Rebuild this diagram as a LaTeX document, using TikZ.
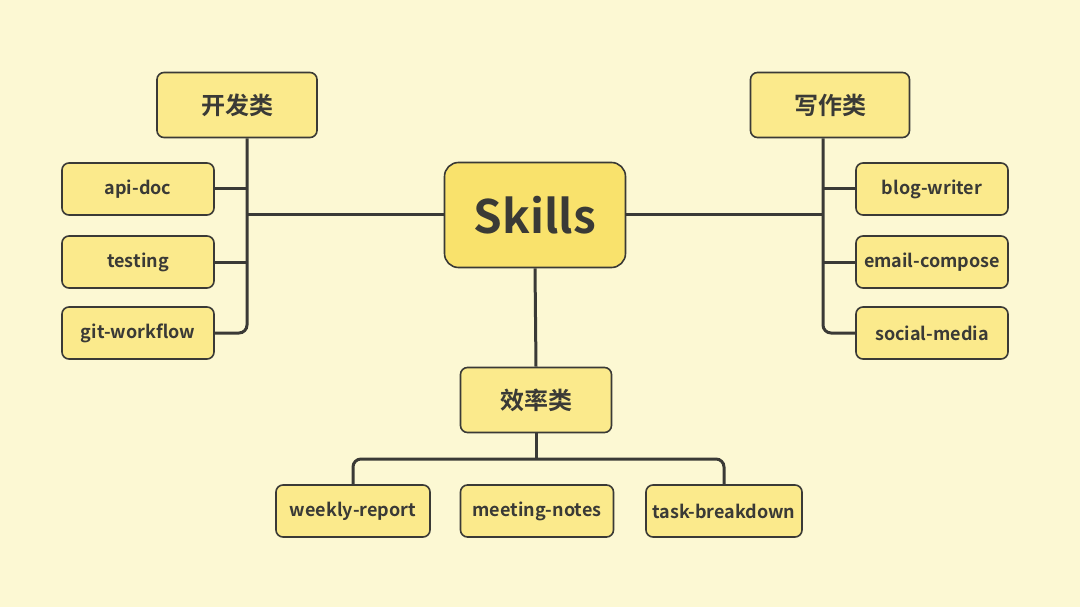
\documentclass[tikz,border=0pt]{standalone}
\usepackage{fontspec}
\setmainfont{Noto Sans CJK SC}[BoldFont=* Bold]
\begin{document}
\definecolor{bg}{HTML}{FCF8D3}
\definecolor{nf}{HTML}{FBEA8C}
\definecolor{sf}{HTML}{F9E26C}
\definecolor{ln}{HTML}{3A3A36}
\begin{tikzpicture}[x=1pt,y=-1pt,
 box/.style={draw=ln,line width=1.6pt,fill=nf,rounded corners=7pt,inner sep=0pt,text=ln,font=\fontsize{18}{20}\selectfont\bfseries},
 cat/.style={box,minimum width=160pt,minimum height=65pt,font=\fontsize{24}{26}\selectfont\bfseries},
 leaf/.style={box,minimum width=152pt,minimum height=52pt},
 con/.style={draw=ln,line width=3pt,rounded corners=8pt}]
\fill[bg] (0,0) rectangle (1080,607);
\useasboundingbox (0,0) rectangle (1080,607);
\node[box,fill=sf,minimum width=181pt,minimum height=105pt,rounded corners=14pt,font=\fontsize{46}{48}\selectfont\bfseries] (sk) at (535,215) {Skills};
\node[cat] (dev) at (237,105) {开发类};
\node[cat,minimum width=159pt] (wr) at (830,105) {写作类};
\node[cat,minimum width=151pt] (ef) at (536,400) {效率类};
\node[leaf] (a1) at (138,189) {api-doc};
\node[leaf] (a2) at (138,262) {testing};
\node[leaf] (a3) at (138,333) {git-workflow};
\node[leaf] (b1) at (932,189) {blog-writer};
\node[leaf] (b2) at (932,262) {email-compose};
\node[leaf] (b3) at (932,333) {social-media};
\node[leaf,minimum width=154pt] (c1) at (353,511) {weekly-report};
\node[leaf,minimum width=153pt] (c2) at (537,511) {meeting-notes};
\node[leaf,minimum width=156pt] (c3) at (724,511) {task-breakdown};
\coordinate (lx) at (247,0);
\coordinate (rx) at (823,0);
\coordinate (hy) at (0,459);
\begin{scope}[on background layer/.style={}]
\draw[con] (dev.south -| lx) -- (lx |- a3) -- (a3.east);
\draw[con] (a1.east) -- (a1 -| lx);
\draw[con] (a2.east) -- (a2 -| lx);
\draw[con] (sk.west) -- (sk -| lx);
\draw[con] (wr.south -| rx) -- (rx |- b3) -- (b3.west);
\draw[con] (b1.west) -- (b1 -| rx);
\draw[con] (b2.west) -- (b2 -| rx);
\draw[con] (sk.east) -- (sk -| rx);
\draw[con] (sk.south) -- (ef.north);
\draw[con] (c1.north) -- (c1 |- hy) -- (c3 |- hy) -- (c3.north);
\draw[con] (ef.south) -- (ef |- hy);
\end{scope}
\end{tikzpicture}
\end{document}
